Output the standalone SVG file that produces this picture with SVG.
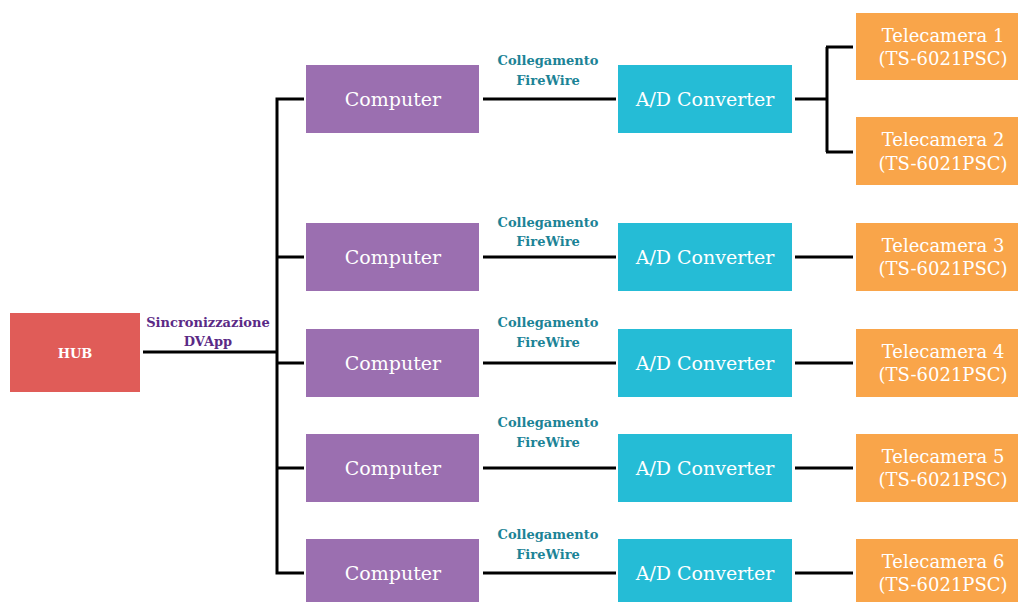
<svg xmlns="http://www.w3.org/2000/svg" width="1018" height="602" viewBox="0 0 1018 602">
<style>
.hub{fill:#e05c58}
.pc{fill:#9b6fb0}
.ad{fill:#25bcd6}
.cam{fill:#f9a54a}
.t{font-family:"DejaVu Serif","Liberation Serif",serif;fill:#fff;text-anchor:middle;dominant-baseline:central}
.n{font-size:19px}
.c{font-size:18px}
.lbl{font-family:"DejaVu Serif","Liberation Serif",serif;font-weight:bold;font-size:13px;text-anchor:middle;dominant-baseline:central}
.fw{fill:#1c8396}
.sy{fill:#5b2a86}
.ln{stroke:#000;stroke-width:3;fill:none}
</style>
<rect width="1018" height="602" fill="#fff"/>
<g id="connectors">
<path class="ln" d="M143 352H277M277 97.5V574.5M277 99H304M277 257H304M277 363H304M277 468H304M277 573H304"/>
<path class="ln" d="M483 99H616M483 257H616M483 363H616M483 468H616M483 573H616"/>
<path class="ln" d="M795 99H827M827 47V152M826 47H853M826 152H853"/>
<path class="ln" d="M795 257H853M795 363H853M795 468H853M795 573H853"/>
</g>
<g id="labels">
<text class="lbl sy" x="208" y="322">Sincronizzazione</text>
<text class="lbl sy" x="208" y="341">DVApp</text>
<text class="lbl fw" x="548" y="60">Collegamento</text>
<text class="lbl fw" x="548" y="80">FireWire</text>
<text class="lbl fw" x="548" y="222">Collegamento</text>
<text class="lbl fw" x="548" y="241">FireWire</text>
<text class="lbl fw" x="548" y="322">Collegamento</text>
<text class="lbl fw" x="548" y="342">FireWire</text>
<text class="lbl fw" x="548" y="422">Collegamento</text>
<text class="lbl fw" x="548" y="442">FireWire</text>
<text class="lbl fw" x="548" y="534">Collegamento</text>
<text class="lbl fw" x="548" y="554">FireWire</text>
</g>
<g id="hub"><rect class="hub" x="10" y="313" width="130" height="79"/><text class="t" x="75" y="353" style="font-size:13px;font-weight:bold">HUB</text></g>
<g id="pc1"><rect class="pc" x="306" y="65" width="173" height="68"/><text class="t n" x="393" y="99">Computer</text></g>
<g id="pc2"><rect class="pc" x="306" y="223" width="173" height="68"/><text class="t n" x="393" y="257">Computer</text></g>
<g id="pc3"><rect class="pc" x="306" y="329" width="173" height="68"/><text class="t n" x="393" y="363">Computer</text></g>
<g id="pc4"><rect class="pc" x="306" y="434" width="173" height="68"/><text class="t n" x="393" y="468">Computer</text></g>
<g id="pc5"><rect class="pc" x="306" y="539" width="173" height="68"/><text class="t n" x="393" y="573">Computer</text></g>
<g id="ad1"><rect class="ad" x="618" y="65" width="174" height="68"/><text class="t n" x="705" y="99">A/D Converter</text></g>
<g id="ad2"><rect class="ad" x="618" y="223" width="174" height="68"/><text class="t n" x="705" y="257">A/D Converter</text></g>
<g id="ad3"><rect class="ad" x="618" y="329" width="174" height="68"/><text class="t n" x="705" y="363">A/D Converter</text></g>
<g id="ad4"><rect class="ad" x="618" y="434" width="174" height="68"/><text class="t n" x="705" y="468">A/D Converter</text></g>
<g id="ad5"><rect class="ad" x="618" y="539" width="174" height="68"/><text class="t n" x="705" y="573">A/D Converter</text></g>
<g id="cam1"><rect class="cam" x="856" y="13" width="170" height="67"/><text class="t c" x="943" y="35">Telecamera 1</text><text class="t c" x="943" y="58">(TS-6021PSC)</text></g>
<g id="cam2"><rect class="cam" x="856" y="117" width="170" height="68"/><text class="t c" x="943" y="139">Telecamera 2</text><text class="t c" x="943" y="163">(TS-6021PSC)</text></g>
<g id="cam3"><rect class="cam" x="856" y="223" width="170" height="68"/><text class="t c" x="943" y="245">Telecamera 3</text><text class="t c" x="943" y="268">(TS-6021PSC)</text></g>
<g id="cam4"><rect class="cam" x="856" y="329" width="170" height="68"/><text class="t c" x="943" y="351">Telecamera 4</text><text class="t c" x="943" y="374">(TS-6021PSC)</text></g>
<g id="cam5"><rect class="cam" x="856" y="434" width="170" height="68"/><text class="t c" x="943" y="456">Telecamera 5</text><text class="t c" x="943" y="479">(TS-6021PSC)</text></g>
<g id="cam6"><rect class="cam" x="856" y="539" width="170" height="68"/><text class="t c" x="943" y="561">Telecamera 6</text><text class="t c" x="943" y="584">(TS-6021PSC)</text></g>
</svg>
